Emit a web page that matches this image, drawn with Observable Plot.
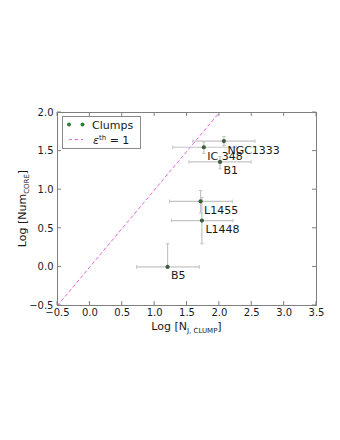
<!DOCTYPE html>
<html>
<head>
<meta charset="utf-8">
<script src="https://cdn.jsdelivr.net/npm/d3@7"></script>
<script src="https://cdn.jsdelivr.net/npm/@observablehq/plot@0.6"></script>
<style>
  html, body { margin: 0; padding: 0; background: #fff; }
  #wrap { position: relative; width: 340px; height: 440px; }
  #legend { position: absolute; left: 62px; top: 116px; width: 77px; height: 31px;
    border: 1px solid #8a8a8a; background: #fff; font: 11px "DejaVu Sans"; color: #111; }
</style>
</head>
<body>
<div id="wrap"></div>
<script>
const names = ["NGC1333", "IC 348", "B1", "L1455", "L1448", "B5"];
const xs    = [2.07, 1.76, 2.01, 1.71, 1.73, 1.20];
const ys    = [1.63, 1.55, 1.36, 0.85, 0.60, 0.00];
const xLo   = [1.59, 1.28, 1.53, 1.23, 1.26, 0.72];
const xHi   = [2.55, 2.26, 2.49, 2.20, 2.21, 1.69];
const yLo   = [1.57, 1.47, 1.27, 0.70, 0.30, 0.00];
const yHi   = [1.69, 1.62, 1.43, 0.99, 0.90, 0.30];
const diag  = [-0.5, 3.5];
const xTicks = [-0.5, 0, 0.5, 1, 1.5, 2, 2.5, 3, 3.5];
const yTicks = [-0.5, 0, 0.5, 1, 1.5, 2];

const rows = names.map((n, i) => ({name: n, x: xs[i], y: ys[i], xl: xLo[i], xh: xHi[i], yl: yLo[i], yh: yHi[i]}));
const diagRows = diag.map(v => ({x: v, y: v}));

const vCap = {draw(ctx, size) { const r = Math.sqrt(size) / 2; ctx.moveTo(0, -r); ctx.lineTo(0, r); }};
const hCap = {draw(ctx, size) { const r = Math.sqrt(size) / 2; ctx.moveTo(-r, 0); ctx.lineTo(r, 0); }};
const fmt = d => d.toFixed(1).replace("-", "\u2212");
const errColor = "#c4c4c4";

const plot = Plot.plot({
  width: 340, height: 440,
  marginLeft: 57, marginRight: 24, marginTop: 112, marginBottom: 135,
  style: {fontFamily: "DejaVu Sans", fontSize: "10px", color: "#1a1a1a", background: "#fff"},
  x: {domain: [-0.5, 3.5]},
  y: {domain: [-0.5, 2.0]},
  marks: [
    Plot.line(diagRows, {x: "x", y: "y", stroke: "#e040e0", strokeOpacity: 0.8, strokeDasharray: "3,3", strokeWidth: 1, clip: true}),
    Plot.link(rows, {x1: "xl", x2: "xh", y1: "y", y2: "y", stroke: errColor, strokeWidth: 1.2}),
    Plot.link(rows, {x1: "x", x2: "x", y1: "yl", y2: "yh", stroke: errColor, strokeWidth: 1.2}),
    Plot.dot(rows, {x: "xl", y: "y", symbol: vCap, r: 2, stroke: errColor, strokeWidth: 1}),
    Plot.dot(rows, {x: "xh", y: "y", symbol: vCap, r: 2, stroke: errColor, strokeWidth: 1}),
    Plot.dot(rows, {x: "x", y: "yh", symbol: hCap, r: 2, stroke: errColor, strokeWidth: 1}),
    Plot.dot(rows, {x: "x", y: "yl", symbol: hCap, r: 2, stroke: errColor, strokeWidth: 1}),
    Plot.dot(rows, {x: "x", y: "y", r: 2.1, fill: "#3c5e3c", stroke: "none"}),
    Plot.text(rows, {x: "x", y: "y", text: "name", dx: 3.5, dy: 9, textAnchor: "start", lineAnchor: "middle", fontSize: 11, fill: "#1a1a1a"}),
    Plot.frame({stroke: "#7f7f7f", strokeWidth: 1}),
    Plot.axisX(xTicks, {tickSize: 0, tickPadding: 3, tickFormat: fmt, label: null}),
    Plot.axisY(yTicks, {tickSize: 0, tickPadding: 4, tickFormat: fmt, label: null})
  ]
});

const wrap = document.getElementById("wrap");
wrap.appendChild(plot);

// inward ticks on all four sides
const svg = d3.select(plot);
const sx = plot.scale("x"), sy = plot.scale("y");
const g = svg.append("g").attr("stroke", "#7f7f7f").attr("stroke-width", 1);
const L = 57, R = 340 - 24, T = 112, B = 440 - 135, tl = 4;
xTicks.forEach(v => {
  const px = sx.apply(v);
  g.append("line").attr("x1", px).attr("x2", px).attr("y1", B).attr("y2", B - tl);
  g.append("line").attr("x1", px).attr("x2", px).attr("y1", T).attr("y2", T + tl);
});
yTicks.forEach(v => {
  const py = sy.apply(v);
  g.append("line").attr("y1", py).attr("y2", py).attr("x1", L).attr("x2", L + tl);
  g.append("line").attr("y1", py).attr("y2", py).attr("x1", R).attr("x2", R - tl);
});

// axis titles
const xt = svg.append("text").attr("x", (L + R) / 2).attr("y", 330).attr("text-anchor", "middle")
  .attr("font-family", "DejaVu Sans").attr("font-size", 11).attr("fill", "#1a1a1a");
xt.append("tspan").text("Log [N");
xt.append("tspan").attr("font-size", 7).attr("dy", 2.5).text("J, CLUMP");
xt.append("tspan").attr("dy", -2.5).text("]");

const yt = svg.append("text").attr("transform", `translate(26,${(T + B) / 2}) rotate(-90)`).attr("text-anchor", "middle")
  .attr("font-family", "DejaVu Sans").attr("font-size", 11).attr("fill", "#1a1a1a");
yt.append("tspan").text("Log [Num");
yt.append("tspan").attr("font-size", 7).attr("dy", 2.5).text("CORE");
yt.append("tspan").attr("dy", -2.5).text("]");

// legend
const leg = document.createElement("div");
leg.id = "legend";
leg.innerHTML = `<svg width="77" height="31" style="position:absolute;left:0;top:0">
  <circle cx="6" cy="7.5" r="2" fill="#2e7d32"/>
  <circle cx="19.5" cy="7.5" r="2" fill="#2e7d32"/>
  <text x="29" y="11.5" font-family="DejaVu Sans" font-size="11" fill="#1a1a1a">Clumps</text>
  <line x1="6" x2="20" y1="22.5" y2="22.5" stroke="#e040e0" stroke-opacity="0.8" stroke-dasharray="3,3"/>
  <text x="30" y="26.5" font-family="DejaVu Sans" font-size="11" fill="#1a1a1a"><tspan font-style="italic">ε</tspan><tspan font-size="7" dy="-4">th</tspan><tspan dy="4"> = 1</tspan></text>
</svg>`;
wrap.appendChild(leg);
</script>
</body>
</html>
